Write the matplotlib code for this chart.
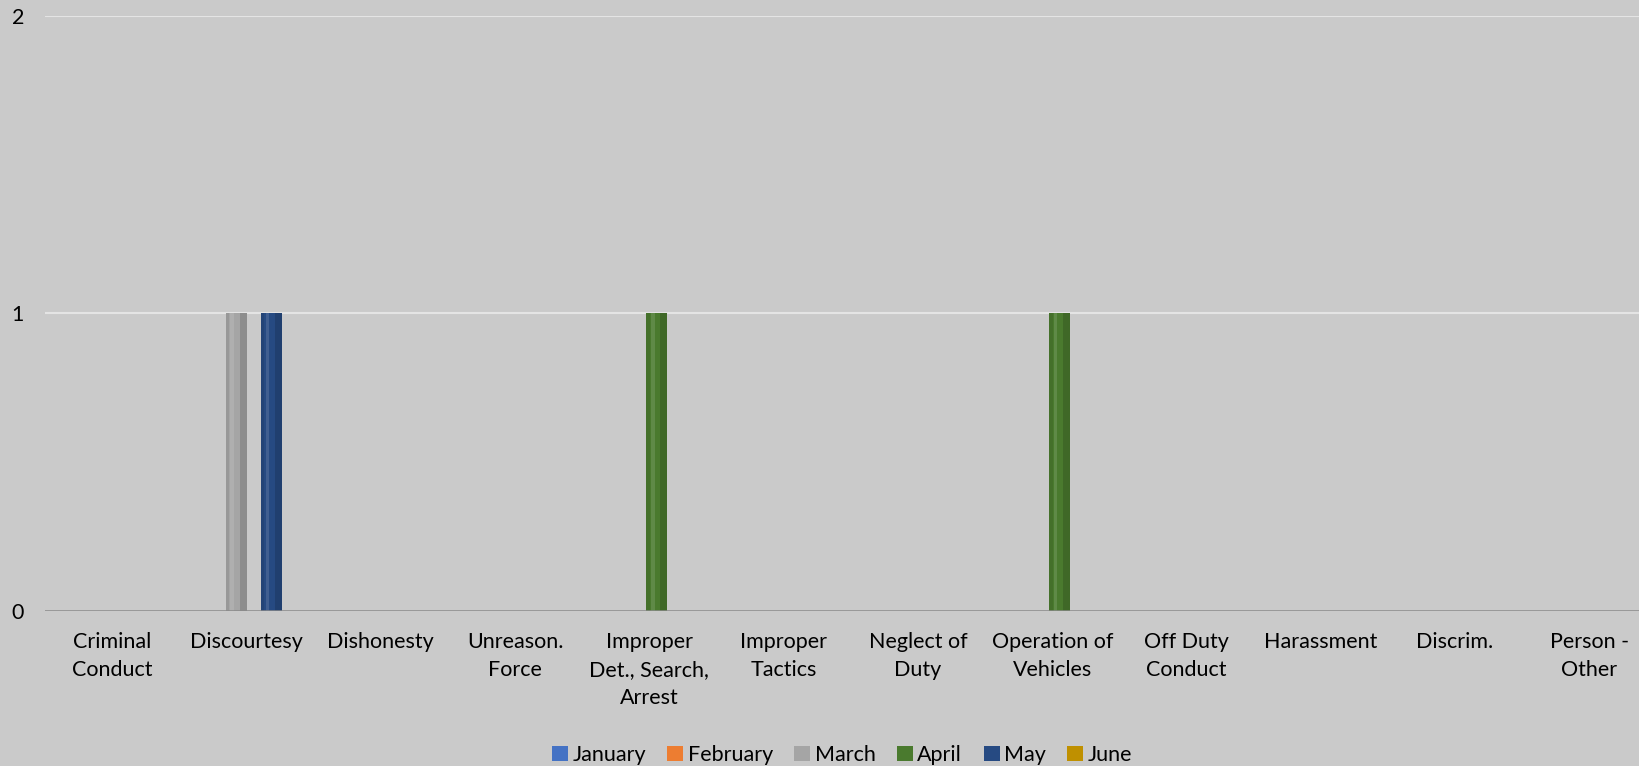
import numpy as np
import matplotlib
matplotlib.use("Agg")
import matplotlib.pyplot as plt

categories = ["Criminal\nConduct", "Discourtesy", "Dishonesty", "Unreason.\nForce",
              "Improper\nDet., Search,\nArrest", "Improper\nTactics", "Neglect of\nDuty",
              "Operation of\nVehicles", "Off Duty\nConduct", "Harassment", "Discrim.",
              "Person -\nOther"]
months = ["January", "February", "March", "April", "May", "June"]
january = [0, 0, 0, 0, 0, 0, 0, 0, 0, 0, 0, 0]
february = [0, 0, 0, 0, 0, 0, 0, 0, 0, 0, 0, 0]
march = [0, 1, 0, 0, 0, 0, 0, 0, 0, 0, 0, 0]
april = [0, 0, 0, 0, 1, 0, 0, 1, 0, 0, 0, 0]
may = [0, 1, 0, 0, 0, 0, 0, 0, 0, 0, 0, 0]
june = [0, 0, 0, 0, 0, 0, 0, 0, 0, 0, 0, 0]
series = [january, february, march, april, may, june]
colors = ["#4472c4", "#ed7d31", "#a5a5a5", "#4a7a2e", "#264a82", "#bf9000"]

plt.rcParams['font.family'] = ['Lato', 'DejaVu Sans']
bg = "#cacaca"

fig = plt.figure(figsize=(16.4, 7.66), dpi=100, facecolor=bg)
ax = fig.add_axes([45 / 1640, 155 / 766, 1595 / 1640, 595 / 766])
ax.set_facecolor(bg)

x = np.arange(len(categories))
slot = 0.131
width = 0.153
handles = []
for i, (vals, col) in enumerate(zip(series, colors)):
    pos = x + (i - 2.5) * slot - 0.01
    vals = np.array(vals)
    b = ax.bar(pos, vals, width=width, color=col, linewidth=0, zorder=3, label=months[i])
    handles.append(b)
    # simple bevel: dark edges, light centre line
    mask = vals > 0
    ax.bar(pos[mask] + width * 0.33, vals[mask], width=width * 0.34, color="black",
           alpha=0.14, linewidth=0, zorder=4)
    ax.bar(pos[mask] - width * 0.42, vals[mask], width=width * 0.16, color="black",
           alpha=0.08, linewidth=0, zorder=4)
    ax.bar(pos[mask] - width * 0.2, vals[mask], width=width * 0.18, color="white",
           alpha=0.12, linewidth=0, zorder=4)

ax.set_xlim(-0.5, 11.377)
ax.set_ylim(0, 2)
ax.set_yticks([0, 1, 2])
ax.set_xticks(x)
ax.set_xticklabels(categories, fontsize=15.5, va="top", linespacing=1.5)
ax.tick_params(axis="x", length=0, pad=15)
ax.tick_params(axis="y", length=0, pad=15, labelsize=15.5)
for yv in [1, 2]:
    ax.axhline(yv, color="#e4e4e4", linewidth=1.5, zorder=1)
ax.axhline(0, color="#8a8a8a", linewidth=1.8, zorder=5)
for s in ax.spines.values():
    s.set_visible(False)

fig.legend(handles=handles, labels=months, loc="center",
           bbox_to_anchor=(842 / 1640, 1 - 755 / 766),
           ncol=6, frameon=False, fontsize=15.5, handlelength=0.74, handleheight=0.74,
           handletextpad=0.2, columnspacing=1.0)

fig.savefig("out.png", dpi=100, facecolor=bg)
